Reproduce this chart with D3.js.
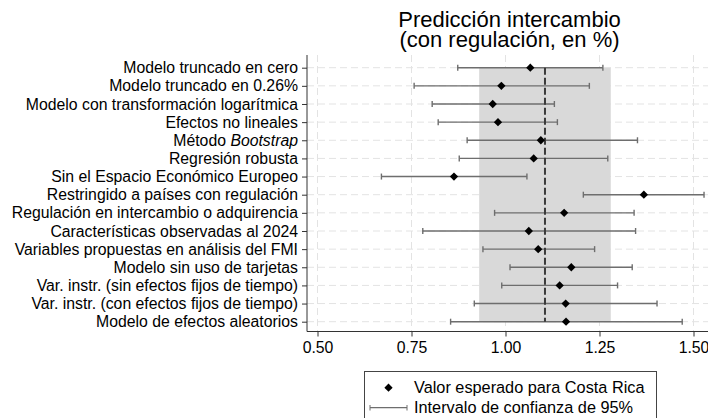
<!DOCTYPE html>
<html>
<head>
<meta charset="utf-8">
<script src="https://cdn.jsdelivr.net/npm/d3@7"></script>
<style>
html,body{margin:0;padding:0;background:#fff;}
svg{display:block;font-family:"Liberation Sans",Arial,Helvetica,sans-serif;}
</style>
</head>
<body>
<svg id="chart" width="708" height="418"></svg>
<script>
const labels = [
  "Modelo truncado en cero",
  "Modelo truncado en 0.26%",
  "Modelo con transformación logarítmica",
  "Efectos no lineales",
  "Método Bootstrap",
  "Regresión robusta",
  "Sin el Espacio Económico Europeo",
  "Restringido a países con regulación",
  "Regulación en intercambio o adquirencia",
  "Características observadas al 2024",
  "Variables propuestas en análisis del FMI",
  "Modelo sin uso de tarjetas",
  "Var. instr. (sin efectos fijos de tiempo)",
  "Var. instr. (con efectos fijos de tiempo)",
  "Modelo de efectos aleatorios"
];
const estimates = [1.066, 0.989, 0.966, 0.980, 1.094, 1.075, 0.863, 1.368, 1.156, 1.062, 1.087, 1.175, 1.144, 1.160, 1.161];
const lowerCI   = [0.873, 0.757, 0.805, 0.821, 0.898, 0.877, 0.670, 1.207, 0.971, 0.780, 0.940, 1.012, 0.990, 0.917, 0.854];
const upperCI   = [1.259, 1.223, 1.130, 1.138, 1.351, 1.272, 1.057, 1.528, 1.342, 1.346, 1.237, 1.337, 1.298, 1.403, 1.470];
const referenceValue = 1.105;
const referenceBand = [0.930, 1.280];
const xTicks = [0.50, 0.75, 1.00, 1.25, 1.50];
const titleLines = ["Predicción intercambio", "(con regulación, en %)"];
const legendItems = ["Valor esperado para Costa Rica", "Intervalo de confianza de 95%"];

const svg = d3.select("#chart");
const plotLeft = 307, plotRight = 708, plotTop = 55, plotBottom = 331.5;
const fontSize = 15.8;

const x = d3.scaleLinear().domain([0.5, 1.5]).range([317.5, 693.5]);
const y = d3.scalePoint().domain(labels).range([67.7, 321.7]);

const rows = labels.map((l, i) => ({label: l, est: estimates[i], lo: lowerCI[i], hi: upperCI[i]}));

// gridlines
const grid = svg.append("g");
grid.selectAll("line.h").data(labels).join("line")
  .attr("x1", plotLeft).attr("x2", plotRight)
  .attr("y1", d => y(d)).attr("y2", d => y(d))
  .attr("stroke", "#e3e3e3").attr("stroke-width", 1).attr("stroke-dasharray", "7,4");
grid.selectAll("line.v").data(xTicks).join("line")
  .attr("x1", d => x(d)).attr("x2", d => x(d))
  .attr("y1", plotTop).attr("y2", plotBottom)
  .attr("stroke", "#e3e3e3").attr("stroke-width", 1).attr("stroke-dasharray", "7,4");

// band
svg.append("rect")
  .attr("x", x(referenceBand[0])).attr("width", x(referenceBand[1]) - x(referenceBand[0]))
  .attr("y", y(labels[0])).attr("height", y(labels[labels.length - 1]) - y(labels[0]))
  .attr("fill", "#d9d9d9");

// CI lines
const ci = svg.append("g").attr("stroke", "#6e6e6e").attr("stroke-width", 1.4);
ci.selectAll("line.ci").data(rows).join("line")
  .attr("x1", d => x(d.lo)).attr("x2", d => x(d.hi))
  .attr("y1", d => y(d.label)).attr("y2", d => y(d.label));
ci.selectAll("line.capl").data(rows).join("line")
  .attr("x1", d => x(d.lo)).attr("x2", d => x(d.lo))
  .attr("y1", d => y(d.label) - 3).attr("y2", d => y(d.label) + 3);
ci.selectAll("line.capr").data(rows).join("line")
  .attr("x1", d => x(d.hi)).attr("x2", d => x(d.hi))
  .attr("y1", d => y(d.label) - 3).attr("y2", d => y(d.label) + 3);

// reference dashed line
svg.append("line")
  .attr("x1", x(referenceValue)).attr("x2", x(referenceValue))
  .attr("y1", y(labels[0])).attr("y2", y(labels[labels.length - 1]))
  .attr("stroke", "#3a3a3a").attr("stroke-width", 2).attr("stroke-dasharray", "7,3");

// diamonds
const diamond = d3.symbol().type(d3.symbolDiamond2).size(44);
svg.selectAll("path.pt").data(rows).join("path")
  .attr("d", diamond)
  .attr("transform", d => `translate(${x(d.est)},${y(d.label)})`)
  .attr("fill", "#000");

// axes
const xAxis = svg.append("g").attr("transform", `translate(0,${plotBottom})`)
  .call(d3.axisBottom(x).tickValues(xTicks).tickFormat(d3.format(".2f")).tickSize(5).tickSizeOuter(0));
xAxis.select(".domain").attr("d", `M${plotLeft},0H${plotRight}`);
const yAxis = svg.append("g").attr("transform", `translate(${plotLeft},0)`)
  .call(d3.axisLeft(y).tickSize(5).tickPadding(4).tickSizeOuter(0));
yAxis.select(".domain").attr("d", `M0,${plotTop}V${plotBottom}`);
[xAxis, yAxis].forEach(a => {
  a.selectAll("text").attr("font-size", fontSize).attr("font-family", null).attr("fill", "#000");
  a.selectAll("line").attr("stroke", "#333");
  a.select(".domain").attr("stroke", "#333");
});
xAxis.selectAll("text").attr("dy", "0.71em").attr("y", 10);
yAxis.selectAll(".tick text").filter(d => d === "Método Bootstrap").each(function() {
  const t = d3.select(this); t.text("");
  t.append("tspan").text("Método ");
  t.append("tspan").attr("font-style", "italic").text("Bootstrap");
});

// title
const titleX = (plotLeft + plotRight) / 2 + 2;
svg.append("text").attr("x", titleX).attr("y", 27)
  .attr("text-anchor", "middle").attr("font-size", 22).attr("fill", "#000")
  .selectAll("tspan").data(titleLines).join("tspan")
  .attr("x", titleX).attr("dy", (d, i) => i === 0 ? 0 : 20).text(d => d);

// legend
const lg = svg.append("g");
lg.append("rect").attr("x", 364.5).attr("y", 371.5).attr("width", 292).attr("height", 60)
  .attr("fill", "#fff").attr("stroke", "#444").attr("stroke-width", 1);
lg.append("path").attr("d", diamond).attr("transform", "translate(388.5,387.7)").attr("fill", "#000");
lg.append("line").attr("x1", 370).attr("x2", 407).attr("y1", 407.7).attr("y2", 407.7)
  .attr("stroke", "#6e6e6e").attr("stroke-width", 1.2);
lg.append("line").attr("x1", 370).attr("x2", 370).attr("y1", 405).attr("y2", 410.5).attr("stroke", "#6e6e6e");
lg.append("line").attr("x1", 407).attr("x2", 407).attr("y1", 405).attr("y2", 410.5).attr("stroke", "#6e6e6e");
lg.selectAll("text").data(legendItems).join("text")
  .attr("x", 414).attr("y", (d, i) => 387.7 + i * 20).attr("dy", "0.35em")
  .attr("font-size", 16.3).attr("fill", "#000").text(d => d);
</script>
</body>
</html>
